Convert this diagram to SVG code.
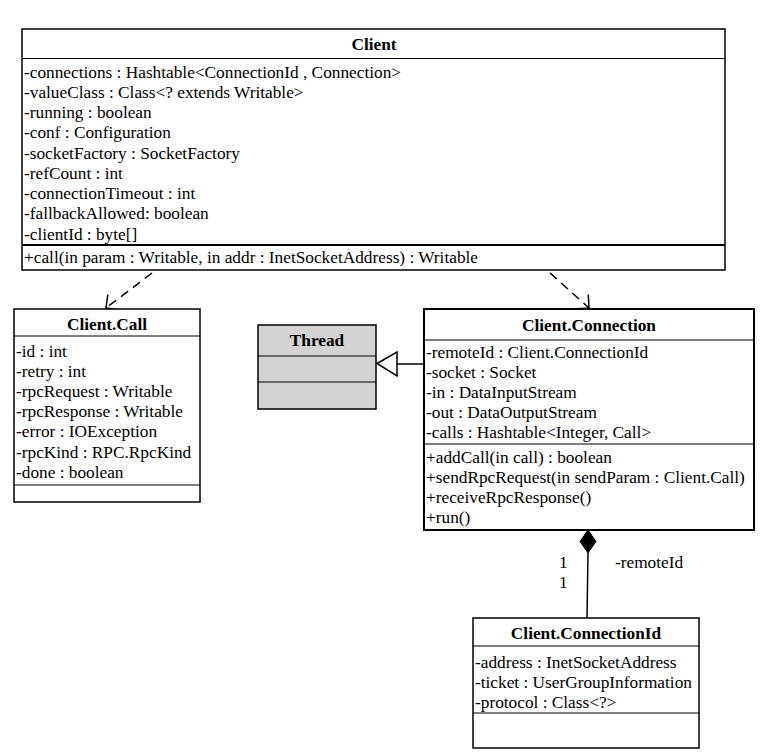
<svg xmlns="http://www.w3.org/2000/svg" width="775" height="755" viewBox="0 0 775 755">
<defs>
<style>
text{font-family:"Liberation Serif","Times New Roman",serif;font-size:17.3px;fill:#000}
.t{font-weight:bold;text-anchor:middle}
.box{fill:#fff;stroke:#000;stroke-width:1.5}
.sep{stroke:#000;stroke-width:1.2}
.dash{fill:none;stroke:#000;stroke-width:1.5;stroke-dasharray:9,6}
.ln{fill:none;stroke:#000;stroke-width:1.5}
</style>
<marker id="open" markerUnits="userSpaceOnUse" markerWidth="30" markerHeight="30" refX="0" refY="0" viewBox="-15 -15 30 30" orient="auto">
<path d="M-9.5,-9.5 L0,0 L-9.5,9.5" fill="none" stroke="#000" stroke-width="1.5"/>
</marker>
</defs>
<rect width="775" height="755" fill="#fff"/>
<g id="connectors">
<path class="dash" d="M152,273 L106,308" marker-end="url(#open)"/>
<path class="dash" d="M550,273 L589,308" marker-end="url(#open)"/>
<path class="ln" d="M397,364 L424,364"/>
<path d="M377,363.5 L397,352 L397,376 Z" fill="#fff" stroke="#000" stroke-width="1.5"/>
<path class="ln" d="M588,553 L587,618"/>
<path d="M588,530 L596,541.5 L588,553 L580,541.5 Z" fill="#000" stroke="#000" stroke-width="1"/>
<text x="559" y="568">1</text>
<text x="559" y="588">1</text>
<text x="615" y="568">-remoteId</text>
</g>
<g id="Client">
<rect class="box" x="22" y="29" width="703" height="241"/>
<line class="sep" x1="22" y1="58.5" x2="725" y2="58.5"/>
<line x1="22" y1="245" x2="725" y2="245" stroke="#000" stroke-width="2"/>
<text class="t" x="374" y="50">Client</text>
<text x="24" y="77.5">-connections : Hashtable&lt;ConnectionId , Connection&gt;</text>
<text x="24" y="97.8">-valueClass : Class&lt;? extends Writable&gt;</text>
<text x="24" y="118">-running : boolean</text>
<text x="24" y="138.3">-conf : Configuration</text>
<text x="24" y="158.5">-socketFactory : SocketFactory</text>
<text x="24" y="178.8">-refCount : int</text>
<text x="24" y="199">-connectionTimeout : int</text>
<text x="24" y="219.3">-fallbackAllowed: boolean</text>
<text x="24" y="239.5">-clientId : byte[]</text>
<text x="24" y="262.5">+call(in param : Writable, in addr : InetSocketAddress) : Writable</text>
</g>
<g id="ClientCall">
<rect class="box" x="14" y="309" width="186" height="193"/>
<line class="sep" x1="14" y1="336" x2="200" y2="336"/>
<line class="sep" x1="14" y1="485" x2="200" y2="485"/>
<text class="t" x="107" y="329.5">Client.Call</text>
<text x="16" y="356.5">-id : int</text>
<text x="16" y="376.7">-retry : int</text>
<text x="16" y="396.9">-rpcRequest : Writable</text>
<text x="16" y="417.1">-rpcResponse  : Writable</text>
<text x="16" y="437.3">-error : IOException</text>
<text x="16" y="457.5">-rpcKind : RPC.RpcKind</text>
<text x="16" y="477.7">-done  : boolean</text>
</g>
<g id="Thread">
<rect x="258" y="325" width="118" height="84" fill="#d3d3d3" stroke="#000" stroke-width="1.5"/>
<line class="sep" x1="258" y1="356" x2="376" y2="356"/>
<line class="sep" x1="258" y1="382" x2="376" y2="382"/>
<text class="t" x="317" y="345.5">Thread</text>
</g>
<g id="ClientConnection">
<rect x="424" y="309" width="330" height="221" fill="#fff" stroke="#000" stroke-width="2"/>
<line class="sep" x1="424" y1="340" x2="754" y2="340"/>
<line class="sep" x1="424" y1="444" x2="754" y2="444"/>
<text class="t" x="589" y="330.5">Client.Connection</text>
<text x="426" y="357.5">-remoteId : Client.ConnectionId</text>
<text x="426" y="377.7">-socket : Socket</text>
<text x="426" y="397.9">-in : DataInputStream</text>
<text x="426" y="418.1">-out : DataOutputStream</text>
<text x="426" y="438.3">-calls : Hashtable&lt;Integer, Call&gt;</text>
<text x="426" y="462.5">+addCall(in call) : boolean</text>
<text x="426" y="482.5">+sendRpcRequest(in sendParam : Client.Call)</text>
<text x="426" y="502.5">+receiveRpcResponse()</text>
<text x="426" y="522.5">+run()</text>
</g>
<g id="ClientConnectionId">
<rect class="box" x="473" y="618" width="226" height="130"/>
<line class="sep" x1="473" y1="646" x2="699" y2="646"/>
<line class="sep" x1="473" y1="713" x2="699" y2="713"/>
<text class="t" x="586" y="638.5">Client.ConnectionId</text>
<text x="475" y="667.5">-address : InetSocketAddress</text>
<text x="475" y="687.5">-ticket : UserGroupInformation</text>
<text x="475" y="707.5">-protocol  : Class&lt;?&gt;</text>
</g>
</svg>
